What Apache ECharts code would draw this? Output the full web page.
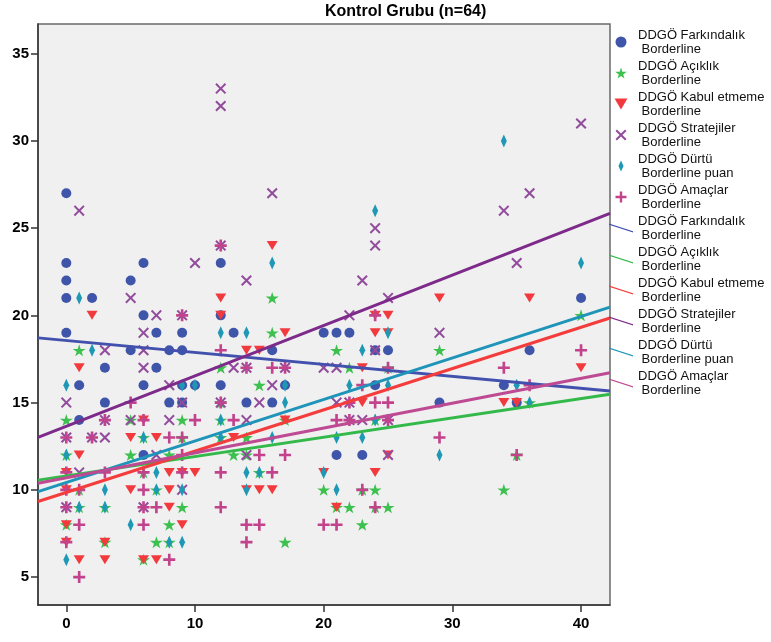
<!DOCTYPE html>
<html>
<head>
<meta charset="utf-8">
<script src="https://cdn.jsdelivr.net/npm/echarts@6/dist/echarts.min.js"></script>
<style>
html,body{margin:0;padding:0;background:#fff;}
#chart{width:771px;height:642px;}
</style>
</head>
<body>
<div id="chart"></div>
<script>
// ---------- data ----------
const seriesNames = [
  'DDGÖ Farkındalık\n Borderline',
  'DDGÖ Açıklık\n Borderline',
  'DDGÖ Kabul etmeme\n Borderline',
  'DDGÖ Stratejiler\n Borderline',
  'DDGÖ Dürtü\n Borderline puan',
  'DDGÖ Amaçlar\n Borderline'
];
const farkindalik = [[0,27],[0,23],[0,22],[0,21],[0,19],[1,16],[1,14],[2,21],[3,17],[3,15],[5,22],[5,18],
  [6,23],[6,20],[6,16],[6,12],[7,19],[7,17],[8,18],[8,15],[9,19],[9,18],[9,16],[9,15],[10,16],
  [12,23],[12,20],[12,16],[13,19],[14,15],[16,18],[16,15],[17,16],[20,19],[21,19],[21,12],[22,19],
  [23,12],[24,18],[24,16],[25,18],[29,15],[34,16],[35,15],[36,18],[40,21]];
const aciklik = [[0,14],[0,12],[0,8],[1,18],[1,10],[1,9],[3,9],[3,7],[5,14],[5,12],[6,13],[6,11],[6,6],
  [7,10],[7,7],[8,12],[8,8],[8,7],[9,14],[9,13],[9,9],[12,17],[12,15],[12,14],[12,13],[13,12],[14,13],[14,12],
  [15,16],[15,11],[16,21],[16,19],[17,14],[17,7],[20,10],[21,18],[21,9],[22,17],[22,9],[23,10],[23,8],
  [24,14],[24,10],[24,9],[25,17],[25,9],[29,18],[34,10],[35,12],[36,15],[40,20]];
const kabul = [[0,11],[0,10],[0,8],[0,7],[1,17],[1,12],[1,6],[2,20],[3,7],[3,6],[5,13],[5,10],[6,14],[6,6],
  [7,13],[7,6],[8,11],[8,10],[8,9],[9,11],[9,8],[10,11],[12,21],[12,20],[13,13],[14,18],[14,10],[15,18],[15,10],
  [16,24],[16,10],[17,19],[17,14],[20,11],[21,9],[23,17],[23,15],[24,20],[24,19],[24,11],[25,20],[25,19],[25,12],
  [29,21],[34,15],[35,15],[36,21],[40,17]];
const stratejiler = [[0,15],[0,13],[0,9],[1,26],[1,11],[2,13],[3,18],[3,14],[3,13],[5,21],[5,14],
  [6,19],[6,18],[6,17],[6,9],[7,20],[7,12],[8,16],[8,14],[9,20],[9,15],[9,10],[10,23],[12,33],[12,32],[12,24],[12,15],
  [13,17],[14,22],[14,17],[14,14],[14,12],[15,15],[16,27],[16,16],[17,17],[20,17],[21,17],[21,15],[22,20],[22,15],[22,14],
  [23,22],[23,14],[24,25],[24,24],[24,18],[25,21],[25,14],[25,12],[29,19],[34,26],[35,23],[36,27],[40,31]];
const durtu = [[0,16],[0,12],[0,6],[1,21],[1,9],[2,18],[3,10],[3,9],[5,8],[6,13],[7,11],[7,10],[8,7],
  [9,16],[9,10],[9,7],[10,16],[12,19],[12,14],[12,13],[14,19],[14,11],[14,10],[15,11],[16,23],[16,13],[17,16],[17,15],
  [20,11],[21,13],[21,10],[22,16],[23,18],[23,13],[24,26],[24,14],[25,19],[25,16],[29,12],[34,30],[35,16],[36,15],[40,23]];
const amaclar = [[0,13],[0,11],[0,10],[0,9],[0,7],[1,10],[1,8],[1,5],[2,13],[3,14],[3,11],[5,15],
  [6,14],[6,11],[6,10],[6,9],[6,8],[7,9],[8,13],[8,6],[9,20],[9,13],[9,12],[9,11],[10,14],
  [12,24],[12,18],[12,15],[12,11],[12,9],[13,14],[14,17],[14,8],[14,7],[15,12],[15,8],[16,17],[16,11],[17,17],[17,12],
  [20,8],[21,14],[21,8],[22,15],[22,14],[23,16],[23,10],[24,20],[24,15],[24,9],[25,17],[25,15],[25,14],
  [29,13],[34,17],[35,12],[36,16],[40,18]];
// fit lines (intercept at x=0, slope)
const fitIntercepts = [18.56, 10.80, 9.85, 13.64, 10.42, 10.69];
const fitSlopes     = [-0.0684, 0.1107, 0.2367, 0.289, 0.238, 0.1426];
const xTicks = [0, 10, 20, 30, 40];
const yTicks = [5, 10, 15, 20, 25, 30, 35];
const xRange = [-2.2, 42.25];
const yRange = [3.4, 36.7];

// ---------- styles ----------
const pointSets = [farkindalik, aciklik, kabul, stratejiler, durtu, amaclar];
const markerColors = ['#3f55a9', '#3cc04e', '#f23a3e', '#924c9c', '#1f98b6', '#c2428c'];
const lineColors   = ['#4251ad', '#33b94a', '#f43c3c', '#7d2a8a', '#1f94b9', '#bd4a92'];
const STAR = 'path://M50,0L61,35L98,35L68,57L79,91L50,70L21,91L32,57L2,35L39,35Z';
const XMARK = 'path://M0,1.3L1.3,0L5,3.7L8.7,0L10,1.3L6.3,5L10,8.7L8.7,10L5,6.3L1.3,10L0,8.7L3.7,5Z';
const PLUS = 'path://M3.9,0L6.1,0L6.1,3.9L10,3.9L10,6.1L6.1,6.1L6.1,10L3.9,10L3.9,6.1L0,6.1L0,3.9L3.9,3.9Z';
const TRI = 'path://M0,0L10,0L5,8.5Z';
const DIAM = 'path://M3,0L6,6.5L3,13L0,6.5Z';
const symbols = ['circle', STAR, TRI, XMARK, DIAM, PLUS];
const symbolSizes = [10, [13, 12], [11, 9], 11, [6, 13], 12];
const legendLine = 'path://M0,0L25,8L25,9.2L0,1.2Z';

const series = [];
const legendData = [];
pointSets.forEach((pts, i) => {
  series.push({
    type: 'scatter', name: seriesNames[i], data: pts,
    symbol: symbols[i], symbolSize: symbolSizes[i], symbolKeepAspect: false,
    itemStyle: { color: markerColors[i], opacity: 1 },
    silent: true, z: 2
  });
  legendData.push({ name: seriesNames[i], icon: symbols[i], itemStyle: { color: markerColors[i], borderWidth: 0 } });
});
pointSets.forEach((pts, i) => {
  const nm = seriesNames[i] + ' ';
  series.push({
    type: 'line', name: nm,
    data: xRange.map(x => [x, fitIntercepts[i] + fitSlopes[i] * x]),
    symbol: 'none', showSymbol: false,
    lineStyle: { color: lineColors[i], width: 3 },
    itemStyle: { color: lineColors[i] },
    silent: true, z: 3
  });
  legendData.push({ name: nm, icon: legendLine, itemStyle: { color: lineColors[i], borderWidth: 0 } });
});

const chart = echarts.init(document.getElementById('chart'), null, { renderer: 'canvas' });
const labelFont = { fontFamily: 'Liberation Sans', fontWeight: 'bold', fontSize: 15, color: '#000' };
chart.setOption({
  animation: false,
  backgroundColor: '#ffffff',
  title: {
    text: 'Kontrol Grubu (n=64)', left: 325, top: 4, padding: 0,
    textStyle: { fontFamily: 'Liberation Sans', fontWeight: 'bold', fontSize: 16, color: '#000' }
  },
  grid: {
    left: 38, right: 161, top: 24, bottom: 37, show: true,
    backgroundColor: '#f0f0f0', borderColor: '#6a6a6a', borderWidth: 1.5
  },
  legend: {
    orient: 'vertical', left: 609, top: 28, padding: 0, itemGap: 3,
    itemWidth: 24, itemHeight: 11, selectedMode: false,
    textStyle: { fontFamily: 'Liberation Sans', fontSize: 13, lineHeight: 14, color: '#111' },
    data: legendData
  },
  xAxis: {
    type: 'value', min: xRange[0], max: xRange[1],
    axisLine: { show: true, onZero: false, lineStyle: { color: '#333', width: 1.5 } },
    axisTick: { show: true, length: 7, customValues: xTicks, lineStyle: { color: '#333', width: 1.5 } },
    axisLabel: Object.assign({ customValues: xTicks, margin: 11 }, labelFont),
    splitLine: { show: false }
  },
  yAxis: {
    type: 'value', min: yRange[0], max: yRange[1],
    axisLine: { show: true, onZero: false, lineStyle: { color: '#333', width: 1.5 } },
    axisTick: { show: true, length: 7, customValues: yTicks, lineStyle: { color: '#333', width: 1.5 } },
    axisLabel: Object.assign({ customValues: yTicks, margin: 9 }, labelFont),
    splitLine: { show: false }
  },
  series: series
});
</script>
</body>
</html>
